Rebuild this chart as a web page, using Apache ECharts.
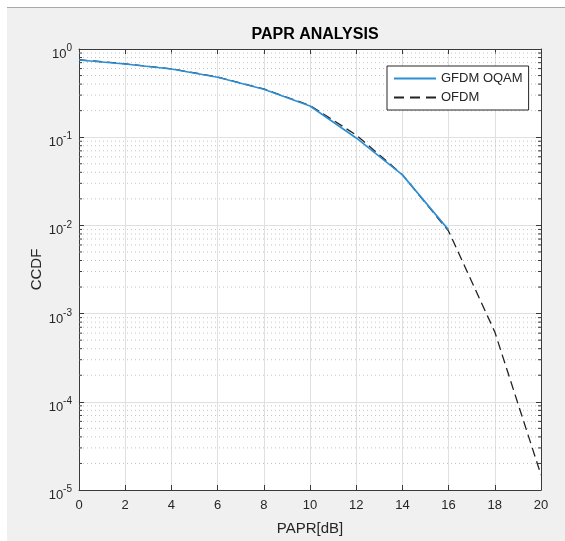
<!DOCTYPE html>
<html>
<head>
<meta charset="utf-8">
<script src="https://cdn.jsdelivr.net/npm/echarts@6/dist/echarts.min.js"></script>
<style>
    html, body { margin: 0; padding: 0; background: #fff; }
    #bg { position: absolute; left: 7px; top: 7px; width: 558px; height: 534px; background: #f0f0f0; border-top: 1px solid #a9a9a9; box-sizing: border-box; }
    #chart { position: absolute; left: 0; top: 0; width: 565px; height: 541px; }
</style>
</head>
<body>
<div id="bg"></div>
<div id="chart"></div>
<script>
    // PAPR 阈值 (dB)
    const paprDb = [0, 2, 4, 6, 8, 10, 12, 14, 16, 18, 20];
    // CCDF 读数
    const gfdmOqam = [0.75, 0.676, 0.593, 0.478, 0.35, 0.226, 0.098, 0.0374, 0.0089];
    const ofdm = [0.755, 0.68, 0.596, 0.482, 0.353, 0.229, 0.106, 0.0376, 0.0086, 0.00062, 0.0000148];
    // 对数轴的次网格 (2..9 x 10^k)
    const minorGrid = [];
    for (let k = -5; k < 0; k++) {
        for (let m = 2; m <= 9; m++) {
            minorGrid.push(m * Math.pow(10, k));
        }
    }

    const font = "Liberation Sans";
    const axisColor = "#3a3a3a";
    const textColor = "#262626";

    const toPairs = (xs, ys) => ys.map((y, i) => [xs[i], y]);

    const chart = echarts.init(document.getElementById("chart"));

    const option = {
        animation: false,
        textStyle: { fontFamily: font },
        title: {
            text: "PAPR ANALYSIS",
            left: 310,
            textAlign: "center",
            top: 22,
            textStyle: { fontFamily: font, fontSize: 16, fontWeight: "bold", color: "#000" }
        },
        legend: {
            orient: "vertical",
            left: 387,
            top: 66,
            padding: [6, 6, 6, 6],
            itemGap: 6,
            itemWidth: 42,
            itemHeight: 14,
            backgroundColor: "#fff",
            borderColor: "#262626",
            borderWidth: 1,
            borderRadius: 0,
            itemStyle: { opacity: 0 },
            textStyle: { fontFamily: font, fontSize: 13, color: textColor },
            data: [
                { name: "GFDM OQAM" },
                { name: "OFDM", lineStyle: { type: [10, 6] } }
            ]
        },
        grid: {
            left: 79,
            top: 49,
            width: 462,
            height: 441,
            show: true,
            backgroundColor: "#fff",
            borderWidth: 0
        },
        xAxis: [
            {
                type: "value",
                min: 0,
                max: 20,
                interval: 2,
                position: "bottom",
                name: "PAPR[dB]",
                nameLocation: "middle",
                nameGap: 31,
                nameMoveOverlap: false,
                nameTextStyle: { fontFamily: font, fontSize: 15, color: textColor },
                axisLine: { show: true, onZero: false, lineStyle: { color: axisColor, width: 1 } },
                axisTick: { show: true, inside: true, length: 5, lineStyle: { color: axisColor } },
                axisLabel: { margin: 9, fontSize: 13, color: textColor, fontFamily: font },
                splitLine: { show: true, lineStyle: { color: "#e0e0e0", width: 1 } }
            },
            {
                type: "value",
                min: 0,
                max: 20,
                interval: 2,
                position: "top",
                axisLine: { show: true, onZero: false, lineStyle: { color: axisColor, width: 1 } },
                axisTick: { show: true, inside: true, length: 5, lineStyle: { color: axisColor } },
                axisLabel: { show: false },
                splitLine: { show: false }
            }
        ],
        yAxis: [
            {
                type: "log",
                logBase: 10,
                min: 1e-5,
                max: 1,
                position: "left",
                name: "CCDF",
                nameLocation: "middle",
                nameGap: 35,
                nameMoveOverlap: false,
                nameTextStyle: { fontFamily: font, fontSize: 15, color: textColor },
                axisLine: { show: true, onZero: false, lineStyle: { color: axisColor, width: 1 } },
                axisTick: { show: true, inside: true, length: 5, lineStyle: { color: axisColor } },
                axisLabel: {
                    margin: 7,
                    color: textColor,
                    padding: [11, 0, 0, 0],
                    formatter: v => "{b|10}{s|" + Math.round(Math.log10(v)) + "}",
                    rich: {
                        b: { fontFamily: font, fontSize: 13, color: textColor, lineHeight: 22 },
                        s: { fontFamily: font, fontSize: 10, color: textColor, lineHeight: 6, verticalAlign: "top" }
                    }
                },
                splitLine: { show: true, lineStyle: { color: "#e0e0e0", width: 1 } }
            },
            {
                type: "log",
                logBase: 10,
                min: 1e-5,
                max: 1,
                position: "right",
                axisLine: { show: true, onZero: false, lineStyle: { color: axisColor, width: 1 } },
                axisTick: { show: true, inside: true, length: 5, lineStyle: { color: axisColor } },
                axisLabel: { show: false },
                splitLine: { show: false }
            }
        ],
        series: [
            {
                // 次网格与次刻度
                type: "custom",
                silent: true,
                z: 1,
                xAxisIndex: 0,
                yAxisIndex: 0,
                clip: false,
                data: minorGrid.map(v => [0, v]),
                renderItem: (params, api) => {
                    const v = api.value(1);
                    const p1 = api.coord([0, v]);
                    const p2 = api.coord([20, v]);
                    return {
                        type: "group",
                        children: [
                            {
                                type: "line",
                                shape: { x1: p1[0], y1: p1[1], x2: p2[0], y2: p2[1] },
                                style: { stroke: "#c4c4c4", lineWidth: 1, lineDash: [1, 3] }
                            },
                            {
                                type: "line",
                                shape: { x1: p1[0], y1: p1[1], x2: p1[0] + 3, y2: p1[1] },
                                style: { stroke: axisColor, lineWidth: 1 }
                            },
                            {
                                type: "line",
                                shape: { x1: p2[0] - 3, y1: p2[1], x2: p2[0], y2: p2[1] },
                                style: { stroke: axisColor, lineWidth: 1 }
                            }
                        ]
                    };
                }
            },
            {
                name: "GFDM OQAM",
                type: "line",
                z: 4,
                symbol: "none",
                data: toPairs(paprDb, gfdmOqam),
                lineStyle: { color: "#2b8fd6", width: 1.6 },
                itemStyle: { color: "#2b8fd6" }
            },
            {
                name: "OFDM",
                type: "line",
                z: 3,
                symbol: "none",
                data: toPairs(paprDb, ofdm),
                lineStyle: { color: "#222", width: 1.3, type: [9, 5] },
                itemStyle: { color: "#222" }
            }
        ]
    };

    chart.setOption(option);
</script>
</body>
</html>
